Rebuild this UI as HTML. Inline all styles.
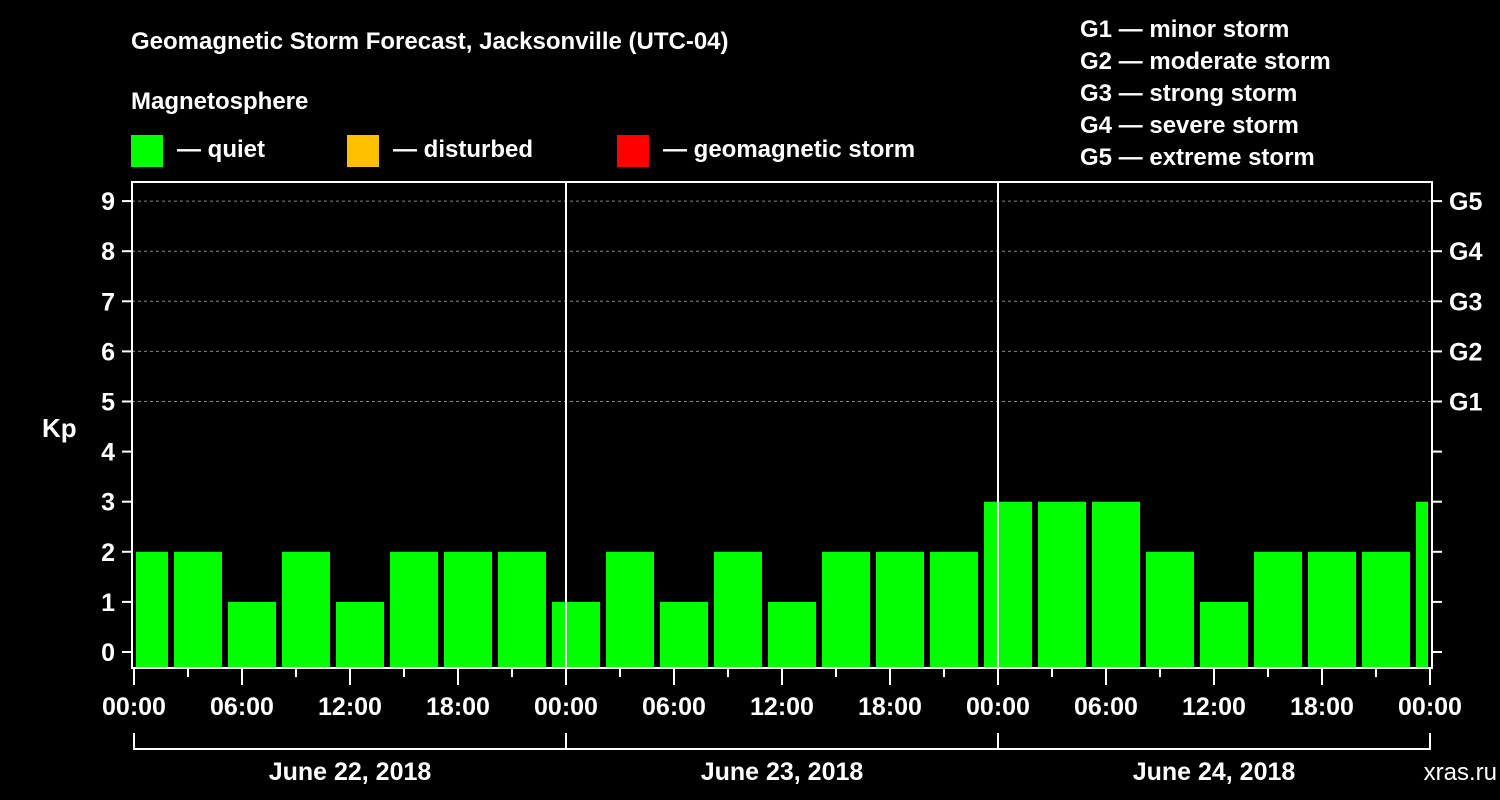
<!DOCTYPE html>
<html><head><meta charset="utf-8"><style>
body{margin:0;background:#000;width:1500px;height:800px;overflow:hidden}
svg{display:block;font-family:"Liberation Sans",sans-serif;font-weight:bold}
</style></head><body>
<svg id="c" width="1500" height="800">
<rect width="1500" height="800" fill="#000"/>
<text x="131" y="49" fill="#fff" font-size="24">Geomagnetic Storm Forecast, Jacksonville (UTC-04)</text>
<text x="131" y="109" fill="#fff" font-size="24">Magnetosphere</text>
<g><rect x="131" y="135" width="32" height="32" fill="#00ff00"/><text x="177" y="157" fill="#fff" font-size="24">— quiet</text></g>
<g><rect x="347" y="135" width="32" height="32" fill="#ffc000"/><text x="393" y="157" fill="#fff" font-size="24">— disturbed</text></g>
<g><rect x="617" y="135" width="32" height="32" fill="#ff0000"/><text x="663" y="157" fill="#fff" font-size="24">— geomagnetic storm</text></g>
<g fill="#fff" font-size="24">
<text x="1080" y="37">G1 — minor storm</text><text x="1080" y="69">G2 — moderate storm</text><text x="1080" y="101">G3 — strong storm</text><text x="1080" y="133">G4 — severe storm</text><text x="1080" y="165">G5 — extreme storm</text></g>
<text x="42" y="437" fill="#fff" font-size="26">Kp</text>
<text x="1497" y="780" fill="#fff" font-size="24" text-anchor="end" font-weight="normal">xras.ru</text>
<g id="g"></g>
</svg>
<script>
const kpValues=[2,2,1,2,1,2,2,2,1,2,1,2,1,2,2,2,3,3,3,2,1,2,2,2,3];
const barStartHour=-1;
const yTicks=[0,1,2,3,4,5,6,7,8,9];
const gLabels=["G1","G2","G3","G4","G5"];
const gLevels=[5,6,7,8,9];
const dayLabels=["June 22, 2018","June 23, 2018","June 24, 2018"];
const hourLabels=["00:00","06:00","12:00","18:00"];
const L=132,R=1432,T=182,B=668,X0=134,PXH=18;
const xs=h=>X0+h*PXH, ys=v=>652-50.1*v;
const g=document.getElementById('g'),NS='http://www.w3.org/2000/svg';
function el(t,a){const e=document.createElementNS(NS,t);for(const k in a)e.setAttribute(k,a[k]);g.appendChild(e);return e;}
// grid
gLevels.forEach(v=>{const e=el('line',{x1:L,x2:R,y1:ys(v),y2:ys(v),stroke:'#888','stroke-dasharray':'3,3','stroke-width':1});

});
// bars
kpValues.forEach((v,i)=>{const h0=barStartHour+i*3;let x1=xs(h0)+4,x2=xs(h0+3)-2;x1=Math.max(x1,X0+2);x2=Math.min(x2,R-4);
const c=v>=5?'#ff0000':v>=4?'#ffc000':'#00ff00';
const r=el('rect',{x:x1,y:ys(v),width:x2-x1,height:667-ys(v),fill:c});

});
// day separators
[1,2].forEach(d=>{const e=el('line',{x1:xs(24*d),x2:xs(24*d),y1:T,y2:B,stroke:'#fff','stroke-width':2});

});
// frame
const f=el('rect',{x:L,y:T,width:R-L,height:B-T,fill:'none',stroke:'#fff','stroke-width':2});


// y ticks
yTicks.forEach(v=>{el('line',{x1:122,x2:L,y1:ys(v),y2:ys(v),stroke:'#fff','stroke-width':2});
el('line',{x1:R,x2:R+10,y1:ys(v),y2:ys(v),stroke:'#fff','stroke-width':2});
const t=el('text',{x:115,y:ys(v)+9,fill:'#fff','font-size':25,'text-anchor':'end'});t.textContent=v;

});
gLevels.forEach((v,i)=>{const t=el('text',{x:1449,y:ys(v)+9,fill:'#fff','font-size':25});t.textContent=gLabels[i];

});
// x ticks
for(let h=0;h<=72;h+=3){const maj=h%6==0;el('line',{x1:xs(h),x2:xs(h),y1:B,y2:B+(maj?17:9),stroke:'#fff','stroke-width':2});
if(maj){const t=el('text',{x:xs(h),y:715,fill:'#fff','font-size':25,'text-anchor':'middle'});t.textContent=hourLabels[(h/6)%4];

}}
// day brackets
el('line',{x1:xs(0),x2:xs(72),y1:749,y2:749,stroke:'#fff','stroke-width':2});
[0,24,48,72].forEach(h=>el('line',{x1:xs(h),x2:xs(h),y1:733,y2:750,stroke:'#fff','stroke-width':2}));
dayLabels.forEach((d,i)=>{const t=el('text',{x:xs(24*i+12),y:780,fill:'#fff','font-size':25,'text-anchor':'middle'});t.textContent=d;

});
</script>
</body></html>
